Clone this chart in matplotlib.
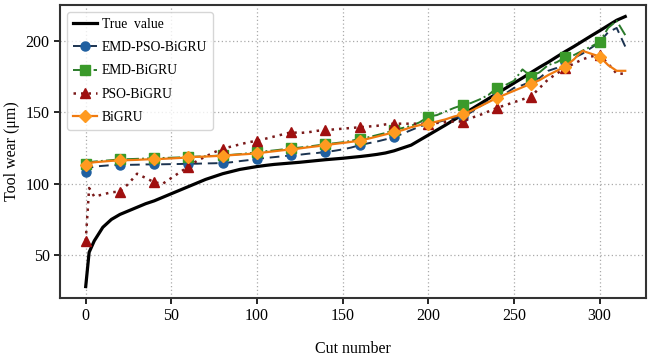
import matplotlib
matplotlib.use("Agg")
import matplotlib.pyplot as plt

plt.rcParams['font.family'] = ['Liberation Serif', 'DejaVu Serif']

cuts = [0, 2] + list(range(5, 316, 5))

true_value = [28,52,60,69.5,75, 78.5,81,83.5,86,88, 90.5,93,95.5,98,100.5, 103,105,107,108.5,110,
              111,112,112.8,113.5,114, 114.5,115,115.6,116.2,116.8, 117.3,117.8,118.4,119,119.7,
              120.5,121.5,123,125,127, 130.5,134,137.5,141,144.7, 148.3,152,155.7,159.4,163,
              166.7,170.4,174,177.8,181.5, 185,188.8,192.5,196,199.7, 203.4,207,210.7,214.4,217]

emd_pso_bigru = [108,111,112,112.5,113, 113,113.2,113.3,113.5,113.5, 113.6,113.7,113.8,114,114,
                 114.2,114.3,114.5,115,115.8, 116.5,117.3,118,118.6,119.2, 119.8,120.3,121,121.5,122.2,
                 123,124,125.3,127,128.3, 129.5,131,132.5,135,137.5, 140,142,143,144.5,146,
                 147,150,154,157.5,161, 163,167,169,171.5,174, 179,181,185,188,191, 195,199,206,209,196]

emd_bigru = [114,115,115.5,116,116.5, 117,117.2,117.4,117.6,117.8, 118,118.2,118.4,118.7,119,
             119.2,119.5,119.8,120.2,120.7, 121.3,122,122.7,123.3,124, 124.7,125.3,126,126.8,127.6,
             128.3,129,130,131.5,132.5, 134,135.5,137.5,139,140.5, 143,147,148,150.5,153,
             155,156.5,159,162,167, 169,172,180,175,178, 183,185,188.5,190,193, 196,199,209,214,204]

pso_bigru = [60,97,91,92.5,94, 94.5,100,107,104,101, 100,104,108,112,116,
             119,122,124.5,126,127.5, 129,130,131.5,133,134.5, 136,135.5,136,137,137.5,
             138,138.5,139,139.5,140, 140.5,141.5,142,142,142, 142,142,142.5,143,143.5,
             143.5,146,148,150.5,153, 155,157,159,161,167, 173,177,181,184,187, 189,190,184,177,177]

bigru = [113,114.5,115,115.5,116, 116.3,116.5,116.7,117,117.2, 117.4,117.7,118,118.5,118.8,
         119,119.3,119.6,120,120.4, 120.8,121.3,122,122.7,123.4, 124,124.7,125.5,126.2,127,
         127.8,128.5,129.3,130.2,131.5, 133,134.5,136,137.5,139.5, 141,142,143.5,145,147,
         148.5,151,154,157,160, 162.5,165,167.5,170,172.5, 176,179,182,187,193, 191,189,183,179,179]

marks = [i for i, c in enumerate(cuts) if c % 20 == 0 and c <= 300]

fig = plt.figure(figsize=(6.48, 3.63), dpi=100)
ax = fig.add_axes([0.0926, 0.179, 0.904, 0.807])

ax.plot(cuts, true_value, color='black', lw=2.3, label='True  value', zorder=2)
ax.plot(cuts, emd_pso_bigru, color='#1b3350', ls=(0, (5, 3)), lw=1.4, marker='o', ms=6.5,
        mfc='#1f5fa0', mec='#1f5fa0', markevery=marks, label='EMD-PSO-BiGRU', zorder=3)
ax.plot(cuts, emd_bigru, color='#2a7a2a', ls='-.', lw=1.4, marker='s', ms=6.5,
        mfc='#3a9a2a', mec='#3a9a2a', markevery=marks, label='EMD-BiGRU', zorder=3)
ax.plot(cuts, pso_bigru, color='#7a1a1a', ls=(0, (1, 2)), lw=1.8, marker='^', ms=7.5,
        mfc='#a01010', mec='#a01010', markevery=marks, label='PSO-BiGRU', zorder=3)
ax.plot(cuts, bigru, color='#f07a10', ls='-', lw=1.6, marker='D', ms=6.5,
        mfc='#ff9a20', mec='#ff9a20', markevery=marks, label='BiGRU', zorder=4)

ax.set_xlim(-15, 327)
ax.set_ylim(20, 225)
ax.set_xticks([0, 50, 100, 150, 200, 250, 300])
ax.set_yticks([50, 100, 150, 200])
ax.grid(True, ls=(0, (1, 2)), color='#aaaaaa', lw=0.9)
ax.tick_params(labelsize=11.5, length=4, width=1.2)
for s in ax.spines.values():
    s.set_linewidth(1.5)
    s.set_color('#333333')

ax.set_xlabel('Cut number', fontsize=11.5, labelpad=12)
ax.set_ylabel('Tool wear (μm)', fontsize=11.5, labelpad=4)

leg = ax.legend(loc='upper left', fontsize=9.8, handlelength=1.8, handletextpad=0.3,
                labelspacing=0.75, borderpad=0.45, frameon=True, fancybox=True,
                bbox_to_anchor=(0.0, 1.0))
leg.get_frame().set_edgecolor('#cccccc')

fig.savefig('out.png', dpi=100)
